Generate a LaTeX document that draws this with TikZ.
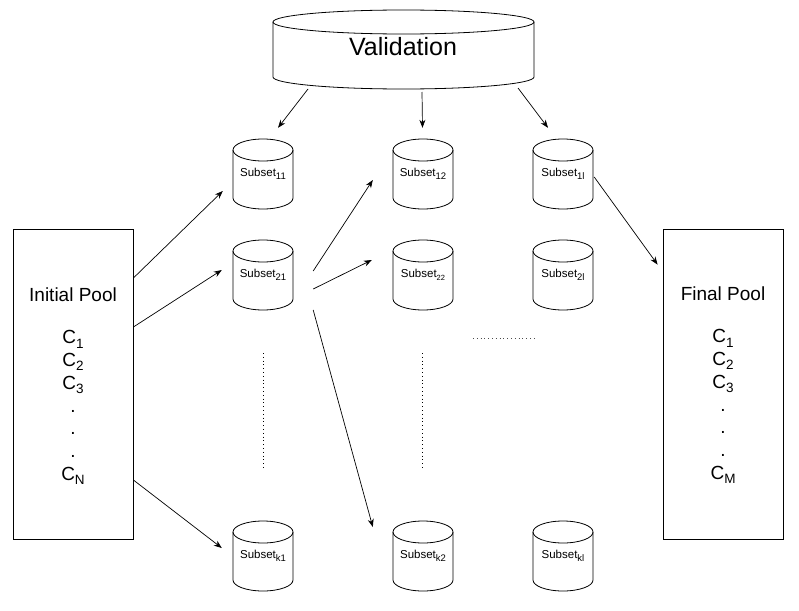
\documentclass[tikz,border=0pt]{standalone}
\usepackage{fontspec}
\setmainfont{Liberation Sans}
\usetikzlibrary{arrows.meta}
\tikzset{
  outline/.style={line width=0.8pt},
  conn/.style={line width=0.7pt,-{Stealth[length=8pt,width=6pt]}},
  cylbox/.style={minimum width=60pt,minimum height=70pt,inner sep=0pt,font=\fontsize{11.5}{13}\selectfont},
  valbox/.style={minimum width=261pt,minimum height=79pt,inner sep=0pt},
  pool/.style={draw,line width=0.8pt,minimum width=120pt,minimum height=310pt,inner sep=0pt},
  pooltext/.style={align=center,font=\fontsize{19}{22.8}\selectfont},
  dotline/.style={line width=0.9pt,dash pattern=on 0.9pt off 2.9pt},
}
\newcommand\sbs[1]{\raisebox{-3.5pt}{\fontsize{9.5}{10}\selectfont #1}}
\newcommand\sbsmall[1]{\raisebox{-3pt}{\fontsize{7.5}{8}\selectfont #1}}
\newcommand\pbs[1]{\raisebox{-4.5pt}{\fontsize{13.5}{14}\selectfont #1}}
\newcommand\subcyl[4]{%
  \node[cylbox] (#1) at (#2,#3) {#4};
  \draw[outline] ([shift={(-30,24)}]#1.center) -- ++(0,-48)
     arc[start angle=180,end angle=360,x radius=30,y radius=11] -- ++(0,48);
  \draw[outline] ([yshift=24]#1.center) ellipse[x radius=30,y radius=11];
}
\begin{document}
\begin{tikzpicture}[x=1pt,y=1pt]
\useasboundingbox (0,0) rectangle (799,-610);

% Validation cylinder
\node[valbox] (val) at (403.5,-49.5) {};
\node[font=\fontsize{25}{27}\selectfont] (valtext) at (403,-47) {Validation};
\draw[outline] ([shift={(-130.5,27.5)}]val.center) -- ++(0,-55)
   arc[start angle=180,end angle=360,x radius=130.5,y radius=12] -- ++(0,55);
\draw[outline] ([yshift=27.5]val.center) ellipse[x radius=130.5,y radius=12];

% Subset cylinders
\subcyl{s11}{263}{-174}{Subset\sbs{11}}
\subcyl{s12}{423}{-174}{Subset\sbs{12}}
\subcyl{s1l}{563}{-174}{Subset\sbs{1l}}
\subcyl{s21}{263}{-275}{Subset\sbs{21}}
\subcyl{s22}{423}{-275}{Subset\sbsmall{22}}
\subcyl{s2l}{563}{-275}{Subset\sbs{2l}}
\subcyl{sk1}{263}{-556}{Subset\sbs{k1}}
\subcyl{sk2}{423}{-556}{Subset\sbs{k2}}
\subcyl{skl}{563}{-556}{Subset\sbs{kl}}

% Pools
\node[pool] (init) at (73,-384) {};
\node[pooltext] (inittext) at (73,-386.5) {Initial Pool\\[19pt]C\pbs{1}\\C\pbs{2}\\C\pbs{3}\\.\\.\\.\\C\pbs{N}};
\node[pool] (fin) at (723,-384) {};
\node[pooltext] (fintext) at (723,-385.5) {Final Pool\\[19pt]C\pbs{1}\\C\pbs{2}\\C\pbs{3}\\.\\.\\.\\C\pbs{M}};

% Validation arrows
\draw[conn] ([shift={(-95.5,-39.5)}]val.center) -- ([shift={(15,11)}]s11.north);
\draw[conn] ([shift={(18.5,-42.5)}]val.center) -- ([shift={(-0.5,11)}]s12.north);
\draw[conn] ([shift={(114.5,-38.5)}]val.center) -- ([shift={(-15,11)}]s1l.north);

% Initial pool arrows
\draw[conn] ([yshift=106]init.east) -- ([shift={(-10,-17)}]s11.west);
\draw[conn] ([yshift=57]init.east) -- ([shift={(-11,5)}]s21.west);
\draw[conn] ([yshift=-96]init.east) -- ([shift={(-11,8)}]sk1.west);

% Subset21 arrows
\draw[conn] ([shift={(20,4)}]s21.east) -- ([shift={(-20,-6)}]s12.west);
\draw[conn] ([shift={(20,-14)}]s21.east) -- ([shift={(-21,15)}]s22.west);
\draw[conn] ([shift={(20,-35)}]s21.east) -- ([shift={(-20,29)}]sk2.west);

% Subset1l to final pool
\draw[conn] ([shift={(1,-3)}]s1l.east) -- ([shift={(-5,-36)}]fin.north west);

% Dotted continuations
\draw[dotline] (263,-353) -- (263,-469);
\draw[dotline] (422,-353) -- (422,-469);
\draw[dotline,black!70] (473,-338) -- (535,-338);
\end{tikzpicture}
\end{document}
